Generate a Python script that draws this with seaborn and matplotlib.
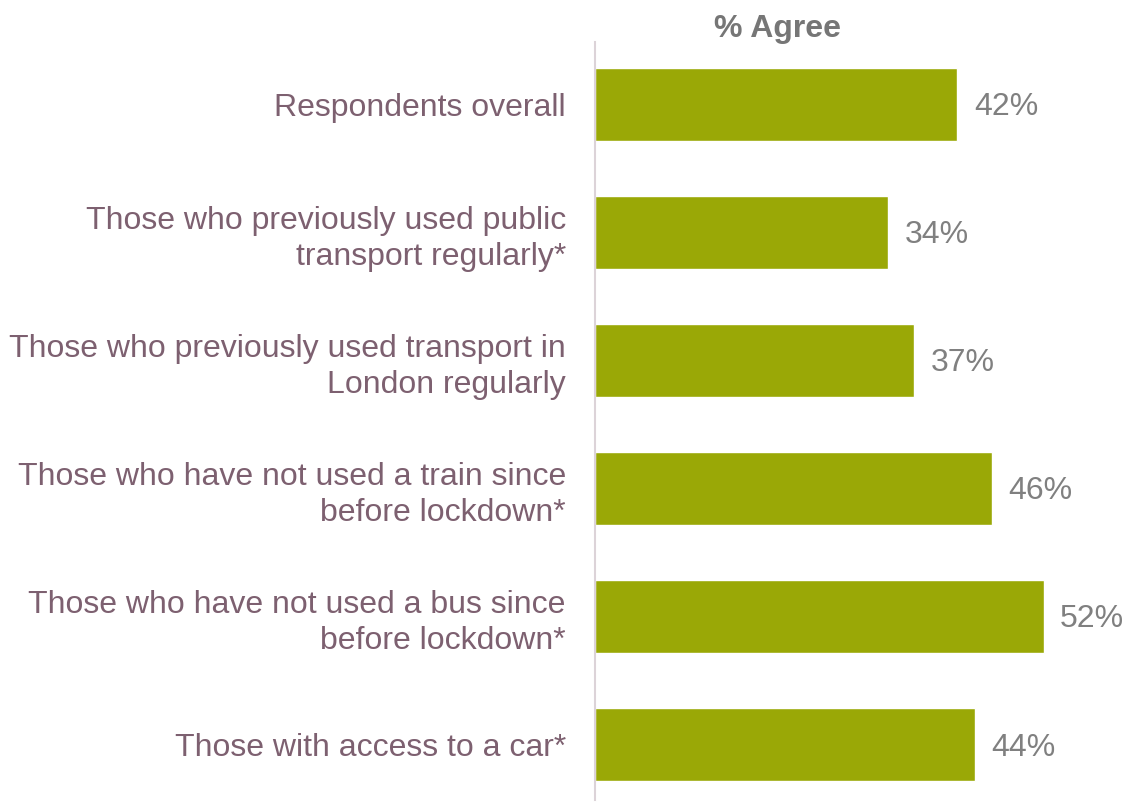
import pandas as pd
import matplotlib.pyplot as plt
import seaborn as sns

sns.set_style('white')
plt.rcParams['font.family'] = ['Liberation Sans', 'DejaVu Sans']

categories = [
    "Respondents overall",
    "Those who previously used public\ntransport regularly*",
    "Those who previously used transport in\nLondon regularly",
    "Those who have not used a train since\nbefore lockdown*",
    "Those who have not used a bus since\nbefore lockdown*",
    "Those with access to a car*",
]
agree = [42, 34, 37, 46, 52, 44]

df = pd.DataFrame({'group': categories, 'agree': agree})

fig = plt.figure(figsize=(11.3, 8.02), dpi=100)
ax = fig.add_axes([0.5265, 0.0025, 0.4735, 0.9451])

sns.barplot(data=df, x='agree', y='group', color='#9aa806', saturation=1,
            width=0.57, ax=ax)

for i, v in enumerate(agree):
    ax.text(v + 1.9, i + 0.02, f"{v}%", va='center', ha='left', fontsize=23, color='#808080')

ax.set_xlim(0, 62)
ax.set_ylim(5.43, -0.49)
ax.set_xlabel('')
ax.set_ylabel('')
ax.set_xticks([])
ax.tick_params(axis='y', length=0, pad=21, labelsize=23, labelcolor='#7d6070')
for lbl in ax.get_yticklabels():
    lbl.set_horizontalalignment('right')
    lbl.set_multialignment('right')
    lbl.set_linespacing(1.25)

for s in ['top', 'right', 'bottom']:
    ax.spines[s].set_visible(False)
ax.spines['left'].set_color('#dcd3d8')
ax.spines['left'].set_linewidth(1.5)

fig.text(777 / 1130, 1 - 29 / 802, "% Agree", ha='center', va='center',
         fontsize=23, fontweight='bold', color='#767676')

plt.savefig("out.png", dpi=100)
